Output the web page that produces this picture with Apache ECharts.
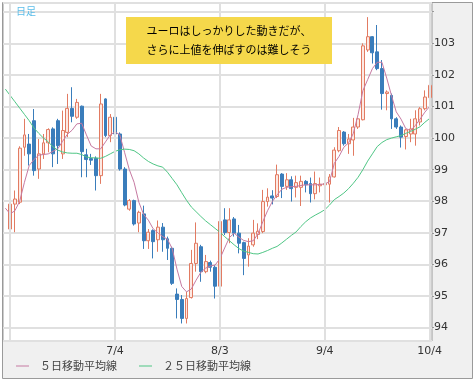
<!DOCTYPE html>
<html><head><meta charset="utf-8">
<script src="https://cdn.jsdelivr.net/npm/echarts@6/dist/echarts.min.js"></script>
<style>html,body{margin:0;padding:0;background:#fff}#c{width:476px;height:386px}</style>
</head><body><div id="c"></div>
<script>
const dates = ['6/1','6/4','6/5','6/6','6/7','6/8','6/11','6/12','6/13','6/14','6/15','6/18','6/19','6/20','6/21','6/22','6/25','6/26','6/27','6/28','6/29',
'7/2','7/3','7/4','7/5','7/6','7/9','7/10','7/11','7/12','7/13','7/16','7/17','7/18','7/19','7/20','7/23','7/24','7/25','7/26','7/27','7/30','7/31',
'8/1','8/2','8/3','8/6','8/7','8/8','8/9','8/10','8/13','8/14','8/15','8/16','8/17','8/20','8/21','8/22','8/23','8/24','8/27','8/28','8/29','8/30','8/31',
'9/3','9/4','9/5','9/6','9/7','9/10','9/11','9/12','9/13','9/14','9/17','9/18','9/19','9/20','9/21','9/24','9/25','9/26','9/27','9/28',
'10/1','10/2','10/3','10/4'];
const opens = [null,97.12,97.91,97.97,99.71,99.81,100.55,99.02,99.50,99.85,100.29,100.55,99.50,100.18,100.94,100.66,101.01,99.47,99.35,99.36,98.81,101.24,100.08,100.66,100.13,99.02,97.75,98.02,97.31,97.60,96.75,97.07,96.78,97.18,96.81,96.51,95.06,94.89,94.29,94.95,96.03,96.56,95.77,96.06,95.91,95.31,97.41,97.01,97.44,96.99,96.69,96.30,96.62,96.95,97.04,97.99,98.17,98.15,98.86,98.47,98.68,98.44,98.44,98.63,98.56,98.24,98.49,98.52,98.54,98.77,99.60,100.19,99.82,99.94,100.35,100.58,102.79,103.21,102.73,102.20,101.41,101.35,100.61,100.35,100.05,100.13,100.13,100.51,100.93,101.28];
const closes = [null,97.91,98.07,99.68,100.10,99.50,98.97,99.50,99.85,100.27,99.50,99.76,100.24,100.94,100.69,101.13,99.57,99.32,99.30,98.81,101.08,100.08,100.66,100.13,99.02,97.88,98.02,97.28,97.65,96.75,97.02,96.72,97.18,96.78,96.51,95.40,94.89,94.29,94.92,96.03,96.67,95.77,96.09,95.91,95.31,97.36,97.01,97.41,96.99,96.67,96.19,96.58,96.99,97.05,97.99,98.13,98.10,98.84,98.47,98.68,98.40,98.59,98.63,98.52,98.24,98.56,98.54,98.56,98.77,99.62,100.24,99.82,99.97,100.35,100.61,102.92,103.21,102.70,102.20,101.41,101.46,100.61,100.35,100.03,100.26,100.29,100.61,100.93,101.30,101.67];
const lows = [null,96.80,97.02,97.91,99.44,99.13,98.81,98.71,99.34,99.55,99.08,99.18,99.34,100.03,100.50,100.61,98.76,98.76,99.15,98.34,98.55,100.03,99.87,100.08,98.97,97.84,97.70,97.23,97.02,96.49,96.49,96.19,96.40,96.40,96.14,95.35,94.29,94.13,94.13,94.92,95.77,95.45,95.72,95.77,94.92,95.03,96.93,96.67,96.88,96.35,95.66,95.93,96.56,96.80,96.99,97.83,97.90,98.10,98.10,98.36,97.99,98.12,97.85,98.28,97.96,98.06,98.28,98.44,97.96,98.75,99.55,99.76,99.50,99.44,100.29,100.56,102.73,102.36,102.15,100.90,100.88,100.29,100.29,99.70,99.64,99.87,99.76,100.40,100.88,101.25];
const highs = [null,98.02,98.34,99.74,100.61,100.13,100.92,99.97,100.13,100.31,100.34,100.61,100.87,101.40,101.61,101.24,101.03,99.66,99.50,99.42,101.40,101.26,100.76,100.71,100.18,99.08,98.07,98.05,97.70,97.86,97.12,97.11,97.39,97.31,96.88,96.56,95.24,95.03,95.13,96.46,97.33,96.62,96.30,96.12,95.98,97.41,97.78,97.78,97.50,97.25,96.72,96.83,97.41,97.30,98.36,98.41,98.35,99.16,98.89,98.89,98.79,98.81,98.81,98.67,98.75,98.94,98.75,98.70,98.86,99.71,100.35,100.22,100.13,100.64,100.64,103.00,103.83,103.23,103.58,102.47,101.51,101.41,100.66,100.40,100.29,100.61,100.88,100.98,101.51,101.78];
const ma5 = [97.78,97.6,97.7,98.0,98.6,99.13,99.32,99.46,99.48,99.5,99.58,99.66,99.9,100.12,100.25,100.45,100.47,100.1,99.75,99.66,99.66,99.88,100.1,100.2,100.1,99.55,99.0,98.6,97.97,97.58,97.4,97.13,97.0,96.88,96.8,96.5,95.85,95.3,95.13,95.22,95.5,95.75,95.88,95.95,95.98,96.18,96.52,96.85,96.99,96.86,96.76,96.72,96.75,96.97,97.35,97.7,97.99,98.2,98.38,98.44,98.46,98.47,98.5,98.52,98.52,98.52,98.53,98.55,98.62,99.2,99.42,99.71,99.85,100.15,100.75,101.5,101.85,102.2,102.4,102.4,101.9,101.35,100.83,100.6,100.3,100.24,100.4,100.6,100.82,101.0];
const ma25 = [101.55,101.35,101.15,100.95,100.75,100.55,100.32,100.15,100.0,99.88,99.72,99.62,99.56,99.53,99.52,99.52,99.48,99.4,99.38,99.37,99.36,99.42,99.5,99.58,99.63,99.65,99.64,99.6,99.5,99.37,99.26,99.18,99.12,99.08,98.92,98.72,98.52,98.27,98.03,97.82,97.67,97.52,97.38,97.26,97.14,97.02,96.88,96.75,96.62,96.5,96.42,96.38,96.34,96.33,96.38,96.44,96.51,96.57,96.68,96.8,96.92,97.03,97.2,97.35,97.47,97.56,97.64,97.73,97.88,98.05,98.15,98.26,98.4,98.57,98.76,99.0,99.27,99.5,99.73,99.86,99.95,100.0,100.04,100.08,100.15,100.21,100.28,100.36,100.5,100.62];
const gridDates = ['6/4','7/4','8/3','9/4','10/4'];
const labelDates = ['7/4','8/3','9/4','10/4'];
const yTicks = [94,95,96,97,98,99,100,101,102,103];
const seriesNames = ['５日移動平均線','２５日移動平均線'];
const titleLines = ['ユーロはしっかりした動きだが、','さらに上値を伸ばすのは難しそう'];

const candles = dates.map((d,i)=> opens[i]==null ? '-' : [opens[i],closes[i],lows[i],highs[i]]);
const chart = echarts.init(document.getElementById('c'), null, {renderer:'canvas'});
const FONT = 'DejaVu Sans';
chart.setOption({
  animation:false,
  backgroundColor:'#fff',
  graphic:[
    {type:'rect', z:-10, shape:{x:2.5,y:2.5,width:470,height:376}, style:{fill:'#f0f0f0', stroke:'#9a9a9a', lineWidth:1}},
    {type:'text', z:100, left:16, top:6, style:{text:'日足', fill:'#5bbde9', font:'10px "Noto Sans CJK JP"'}},
    {type:'rect', z:100, shape:{x:126,y:17,width:206,height:47}, style:{fill:'#f5d84b'}},
    {type:'text', z:101, x:229, y:31, style:{text:titleLines[0], fill:'#000', font:'11px "Noto Sans CJK JP"', align:'center', verticalAlign:'middle'}},
    {type:'text', z:101, x:229, y:50, style:{text:titleLines[1], fill:'#000', font:'11px "Noto Sans CJK JP"', align:'center', verticalAlign:'middle'}}
  ],
  legend:{
    data:seriesNames, left:16, top:360.5, padding:0, icon:'rect', itemWidth:13, itemHeight:1, itemGap:22,
    textStyle:{fontSize:11, color:'#444', fontFamily:'Noto Sans CJK JP', padding:[0,0,0,6]}
  },
  grid:{left:3, top:3, right:44, bottom:45, show:true, backgroundColor:'#fff', borderColor:'#999', borderWidth:1},
  xAxis:{
    type:'category', data:dates, boundaryGap:true,
    axisLine:{show:false}, axisTick:{show:false}, splitLine:{show:false},
    axisLabel:{interval:0, margin:5, color:'#333', fontSize:11, fontFamily:FONT,
      formatter:v=> labelDates.includes(v) ? v : ''}
  },
  yAxis:{
    type:'value', position:'right', min:93.575, max:104.277, splitNumber:10, scale:true,
    axisLine:{show:false}, axisTick:{show:true, length:2, lineStyle:{color:'#999'}},
    splitLine:{show:true, lineStyle:{color:'#e0e0e0', width:2}},
    axisLabel:{margin:2, color:'#333', fontSize:11, fontFamily:FONT, showMinLabel:false, showMaxLabel:false,
      formatter:v=> yTicks.includes(Math.round(v*1000)/1000) ? String(v) : ''}
  },
  series:[
    {type:'line', name:'grid', data:[], z:1, silent:true,
     markLine:{silent:true, symbol:'none', label:{show:false}, animation:false,
       lineStyle:{color:'#e0e0e0', width:2, type:'solid'},
       data:gridDates.map(d=>({xAxis:d}))}},
    {type:'candlestick', name:'candle', data:candles, barWidth:3.4, z:3,
     itemStyle:{color:'#fde9e3', color0:'#3a7dbb', borderColor:'#e27b62', borderColor0:'#3a7dbb', borderWidth:1}},
    {type:'line', name:seriesNames[0], data:ma5, symbol:'none', z:4, lineStyle:{color:'#c67aa2', width:1}, itemStyle:{color:'#c67aa2'}},
    {type:'line', name:seriesNames[1], data:ma25, symbol:'none', z:4, lineStyle:{color:'#4fc685', width:1}, itemStyle:{color:'#4fc685'}}
  ]
});
</script></body></html>
